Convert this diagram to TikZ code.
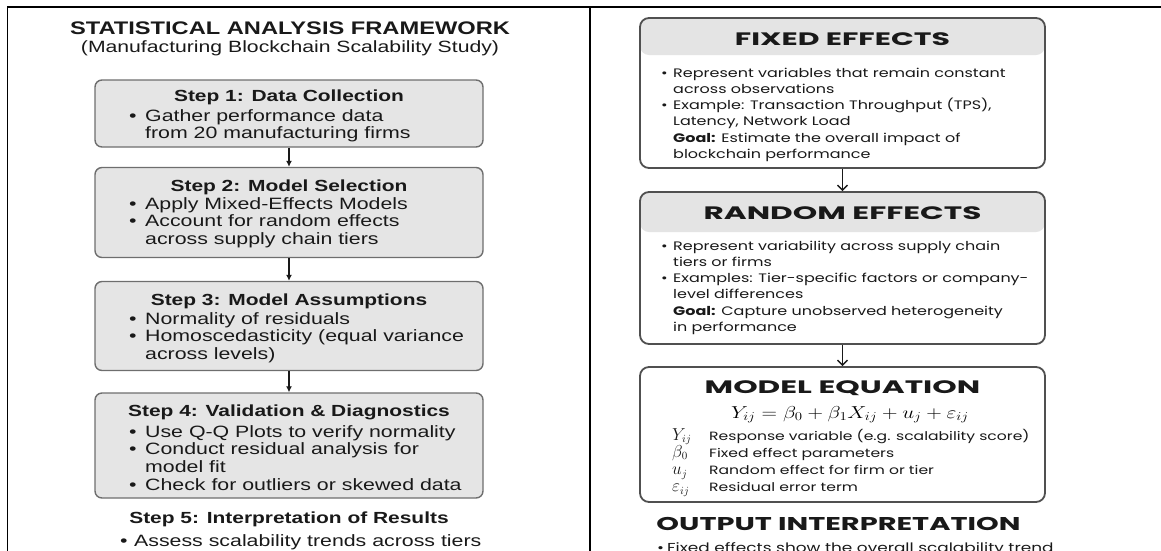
\documentclass[tikz,border=0pt]{standalone}
\usepackage{fontspec}
\setmainfont{Liberation Sans}[FakeStretch=1.3]
\newfontfamily\effont{Poppins}[FakeStretch=1.3]
\usepackage{amsmath}
\usepackage{graphicx}
\usetikzlibrary{arrows.meta, positioning}
\definecolor{boxgray}{RGB}{229, 229, 229}
\definecolor{edgegray}{RGB}{110, 110, 110}
\definecolor{bandgray}{RGB}{228, 228, 228}
\definecolor{effedge}{RGB}{80, 80, 80}
\definecolor{inkdark}{RGB}{25, 25, 25}
% wide caps for the headings on the right
\newcommand{\widecaps}[2][1.33]{\scalebox{#1}[1]{#2}}

\begin{document}
\begin{tikzpicture}[x=1pt, y=-1pt,
  frameline/.style={line width=1.5pt, black},
  stepbox/.style={draw=edgegray, line width=1.4pt, fill=boxgray, rounded corners=7pt, minimum width=388pt, inner sep=0pt},
  effbox/.style={draw=effedge, line width=1.8pt, fill=white, rounded corners=9pt, minimum width=405pt, inner sep=0pt,
    path picture={\fill[bandgray] (path picture bounding box.north west) rectangle ([yshift=-#1]path picture bounding box.north east);}},
  titletxt/.style={font=\fontsize{18.2}{20}\selectfont\bfseries, anchor=base, inner sep=0pt, text=inkdark},
  subtxt/.style={font=\fontsize{16.3}{18}\selectfont, anchor=base, inner sep=0pt, text=inkdark},
  stephead/.style={font=\fontsize{16.1}{18}\selectfont\bfseries, anchor=base, inner sep=0pt, text=inkdark},
  steptxt/.style={font=\fontsize{16.4}{17.8}\selectfont, anchor=base west, inner sep=0pt, text=inkdark},
  effhead/.style={font=\effont\fontsize{18}{20}\selectfont\bfseries, anchor=base, inner sep=0pt, text=inkdark},
  efftxt/.style={font=\effont\fontsize{12.3}{16.3}\selectfont, anchor=base west, inner sep=0pt, text=inkdark},
  legtxt/.style={font=\effont\fontsize{12}{17.3}\selectfont, anchor=base west, inner sep=0pt, text=inkdark},
  flowarrow/.style={-{Latex[length=6pt, width=6pt]}, line width=1.2pt, inkdark},
  effarrow/.style={-{Straight Barb[length=5pt, width=10pt]}, line width=1.4pt, inkdark}
]
  \useasboundingbox (0,0) rectangle (1161,550);

  % ===== Frame =====
  \draw[frameline] (7,7) -- (1161,7);
  \draw[frameline] (7.5,7) -- (7.5,551);
  \draw[frameline] (590,7) -- (590,551);

  % ===== Left panel: framework steps =====
  \node[titletxt] (title) at (290, 34) {STATISTICAL ANALYSIS FRAMEWORK};
  \node[subtxt] (subtitle) at (290, 52) {(Manufacturing Blockchain Scalability Study)};

  \node[stepbox, minimum height=67pt] (s1) at (289, 113.5) {};
  \node[stepbox, minimum height=90pt] (s2) at (289, 212.5) {};
  \node[stepbox, minimum height=89pt] (s3) at (289, 326) {};
  \node[stepbox, minimum height=105pt] (s4) at (289, 445.5) {};

  \draw[flowarrow] (s1) -- (s2);
  \draw[flowarrow] (s2) -- (s3);
  \draw[flowarrow] (s3) -- (s4);

  % Step texts
  \node[stephead] (s1h) at (289, 101) {Step 1: Data Collection};
  \node[steptxt] (s1t) at (129, 121) {\begin{tabular}[t]{@{}p{16pt}@{}l@{}}
    \textbullet & Gather performance data\\
                & from 20 manufacturing firms
  \end{tabular}};

  \node[stephead] (s2h) at (289, 191) {Step 2: Model Selection};
  \node[steptxt] (s2t) at (129, 209) {\begin{tabular}[t]{@{}p{16pt}@{}l@{}}
    \textbullet & Apply Mixed-Effects Models\\
    \textbullet & Account for random effects\\
                & across supply chain tiers
  \end{tabular}};

  \node[stephead] (s3h) at (289, 305) {Step 3: Model Assumptions};
  \node[steptxt] (s3t) at (129, 324) {\begin{tabular}[t]{@{}p{16pt}@{}l@{}}
    \textbullet & Normality of residuals\\
    \textbullet & Homoscedasticity (equal variance\\
                & across levels)
  \end{tabular}};

  \node[stephead] (s4h) at (289, 416) {Step 4: Validation \& Diagnostics};
  \node[steptxt] (s4t) at (129, 437) {\begin{tabular}[t]{@{}p{16pt}@{}l@{}}
    \textbullet & Use Q-Q Plots to verify normality\\
    \textbullet & Conduct residual analysis for\\
                & model fit\\
    \textbullet & Check for outliers or skewed data
  \end{tabular}};

  \node[stephead] (s5h) at (289, 523) {Step 5: Interpretation of Results};
  \node[steptxt] (s5t) at (120, 546) {\begin{tabular}[t]{@{}p{14pt}@{}l@{}}
    \textbullet & Assess scalability trends across tiers
  \end{tabular}};

  % ===== Right panel: model components =====
  \node[effbox=37pt, minimum height=150pt] (fixed) at (842.5, 93) {};
  \node[effbox=40pt, minimum height=152pt] (random) at (842.5, 268) {};
  \node[effbox=0pt, minimum height=135pt] (model) at (842.5, 434.5) {};

  \draw[effarrow] (fixed) -- (random);
  \draw[effarrow] (random) -- (model);

  \node[effhead] (fixedh) at (842.5, 45) {\widecaps[1.28]{FIXED EFFECTS}};
  \node[efftxt] (fixedt) at (661, 77) {\begin{tabular}[t]{@{}p{12pt}@{}l@{}}
    \textbullet & Represent variables that remain constant\\
                & across observations\\
    \textbullet & Example: Transaction Throughput (TPS),\\
                & Latency, Network Load\\
                & \textbf{Goal:} Estimate the overall impact of\\
                & blockchain performance
  \end{tabular}};

  \node[effhead] (randomh) at (842.5, 219) {\widecaps{RANDOM EFFECTS}};
  \node[efftxt] (randomt) at (661, 250) {\begin{tabular}[t]{@{}p{12pt}@{}l@{}}
    \textbullet & Represent variability across supply chain\\
                & tiers or firms\\
    \textbullet & Examples: Tier-specific factors or company-\\
                & level differences\\
                & \textbf{Goal:} Capture unobserved heterogeneity\\
                & in performance
  \end{tabular}};

  \node[effhead] (modelh) at (842.5, 393) {\widecaps{MODEL EQUATION}};
  \node[anchor=base, inner sep=0pt, font=\fontsize{17.5}{20}\selectfont] (eq) at (850, 418)
    {\scalebox{1.24}[1]{$Y_{ij} = \beta_0 + \beta_1 X_{ij} + u_j + \varepsilon_{ij}$}};
  \node[legtxt] (legend) at (672, 440) {\begin{tabular}[t]{@{}p{37pt}@{}l@{}}
    {\fontsize{16}{17}\selectfont$Y_{ij}$} & Response variable (e.g. scalability score)\\
    {\fontsize{16}{17}\selectfont$\beta_0$} & Fixed effect parameters\\
    {\fontsize{16}{17}\selectfont$u_j$} & Random effect for firm or tier\\
    {\fontsize{16}{17}\selectfont$\varepsilon_{ij}$} & Residual error term
  \end{tabular}};

  \node[effhead, font=\effont\fontsize{18.5}{22}\selectfont\bfseries] (outh) at (838.5, 530) {\widecaps[1.2]{OUTPUT INTERPRETATION}};
  \node[efftxt, font=\effont\fontsize{13}{16}\selectfont] (outt) at (657, 552) {\begin{tabular}[t]{@{}p{10pt}@{}l@{}}
    \textbullet & Fixed effects show the overall scalability trend
  \end{tabular}};
\end{tikzpicture}
\end{document}
